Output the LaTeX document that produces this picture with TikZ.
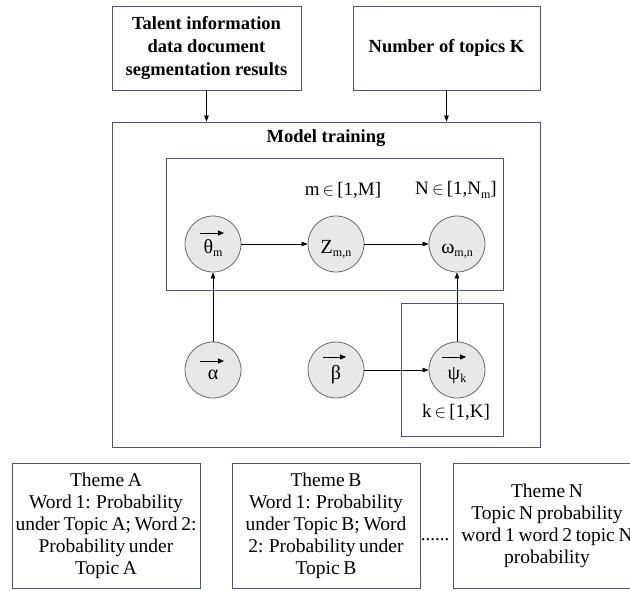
\documentclass[tikz,border=0pt]{standalone}
\usepackage{fontspec}
\setmainfont{Liberation Serif}
\usetikzlibrary{arrows.meta}

\definecolor{framec}{HTML}{4F5578}
\definecolor{circc}{HTML}{6A6A6A}
\definecolor{circf}{HTML}{E8E8E8}

% lowered small index, as used in the variable names
\newcommand\lowsub[1]{\raisebox{-0.4ex}{\fontsize{12}{12}\selectfont #1}}
\newcommand\inrange{\,$\in$\,}
% body text: large size, tight lines, slightly narrow spaces
\newcommand\bodyfont{\fontsize{19.5}{22}\selectfont\spaceskip=0.19em plus 0.05em minus 0.05em\relax}

\begin{document}
\begin{tikzpicture}[x=1pt,y=-1pt,
  frame/.style={draw=framec, line width=0.9pt},
  txtbox/.style={frame, align=center, inner sep=0pt, font=\bodyfont},
  headbox/.style={txtbox, minimum height=84pt,
    font=\fontsize{18.5}{23}\selectfont\bfseries},
  themebox/.style={txtbox, minimum width=188pt, minimum height=125pt},
  plate/.style={frame},
  var/.style={circle, draw=circc, fill=circf, line width=0.8pt,
    minimum size=56pt, inner sep=0pt, text height=20pt, text depth=2pt,
    font=\fontsize{20}{20}\selectfont},
  idx/.style={font=\fontsize{19}{22}\selectfont, inner sep=0pt},
  arr/.style={-{Triangle[length=6pt,width=4.5pt]}, line width=0.6pt},
  vec/.style={-{Triangle[length=6pt,width=5pt]}, line width=0.9pt}]

\useasboundingbox (0,0) rectangle (630,590);
\clip (0,0) rectangle (630,590);

% inputs
\node[headbox, minimum width=189pt] (docs) at (206.5,48)
  {Talent information\\data document\\segmentation results};
\node[headbox, minimum width=187pt] (ktopics) at (446.5,48)
  {Number of topics K};

% model training frame and plates
\node[plate, minimum width=428pt, minimum height=325pt] (model) at (326,284.5) {};
\node[idx, font=\fontsize{18.5}{22}\selectfont\bfseries] (mtitle) at (326,138) {Model training};
\node[plate, minimum width=337pt, minimum height=132pt] (plateM) at (334.5,224) {};
\node[plate, minimum width=102pt, minimum height=133pt] (plateK) at (452,369.5) {};

\node[idx] (mrange) at (343,190) {m\inrange[1,M]};
\node[idx] (nrange) at (456,190) {N\inrange[1,N\lowsub{m}]};
\node[idx] (krange) at (456,412) {k\inrange[1,K]};

% variables
\node[var] (theta) at (213,244) {θ\lowsub{m}};
\node[var] (zmn)   at (336,244) {Z\lowsub{m,n}};
\node[var] (omega) at (457,244) {ω\lowsub{m,n}};
\node[var] (alpha) at (213,370) {α};
\node[var] (beta)  at (336,370) {β};
\node[var] (psi)   at (457,370) {ψ\lowsub{k}};

% vector marks over the parameters
\draw[vec] ([shift={(-13,-11)}]theta.center) -- ++(24,0);
\draw[vec] ([shift={(-13,-9)}]alpha.center) -- ++(24,0);
\draw[vec] ([shift={(-13,-13)}]beta.center) -- ++(23,0);
\draw[vec] ([shift={(-15,-13)}]psi.center) -- ++(24,0);

% connectors
\draw[arr] (docs.south) -- (docs.south |- model.north);
\draw[arr] (ktopics.south) -- (ktopics.south |- model.north);
\draw[arr] (theta) -- (zmn);
\draw[arr] (zmn) -- (omega);
\draw[arr] (alpha) -- (theta);
\draw[arr] (beta) -- (psi);
\draw[arr] (psi) -- (omega);

% resulting topics
\node[themebox] (themeA) at (106,525.5)
  {Theme A\\Word 1: Probability\\under Topic A; Word 2:\\Probability under\\Topic A};
\node[themebox] (themeB) at (326,525.5)
  {Theme B\\Word 1: Probability\\under Topic B; Word\\2: Probability under\\Topic B};
\node[themebox] (themeN) at (547,525.5)
  {Theme N\\Topic N probability\\word 1 word 2 topic N\\probability};
\node[idx] (dots) at (435,540) {......};
\end{tikzpicture}
\end{document}
